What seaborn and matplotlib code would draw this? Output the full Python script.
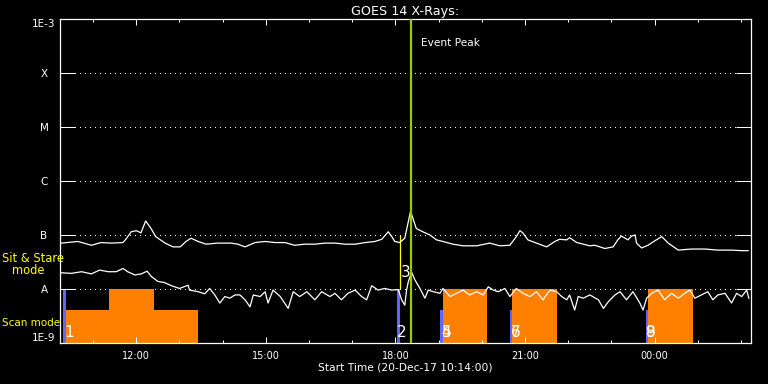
import numpy as np
import pandas as pd
import matplotlib
matplotlib.use("Agg")
import matplotlib.pyplot as plt
import matplotlib.dates as mdates
from matplotlib.ticker import NullLocator
import seaborn as sns

# ---------------- data ----------------
start_time = pd.Timestamp("2017-12-20 10:14:00")

# long channel (1-8 A), minutes after start and log10 flux (W/m^2)
upper_min = [2, 25, 43.5, 57, 71, 87.5, 92, 99, 106, 112.5, 119, 126, 133, 146, 157,
             167, 175, 182, 192, 203, 219, 237.5, 247, 257, 271, 285, 299, 312.5, 326, 340,
             354, 368, 382, 396, 410, 424, 437.5, 447, 456, 461, 465, 472, 479, 483, 487,
             491, 495, 504, 514, 523, 532, 546, 560, 579, 597, 611, 625, 634, 639, 643,
             650, 662, 676, 687.5, 694, 704, 708, 718, 736, 743, 757, 768.5, 775, 780, 789,
             794, 799, 801, 808, 817, 826, 836, 845, 859, 877, 896, 914, 933, 947, 956]
upper_log = [-7.15, -7.12, -7.19, -7.14, -7.15, -7.14, -7.07, -6.94, -6.92, -6.96,
             -6.74, -6.87, -7.03, -7.15, -7.22, -7.22, -7.12, -7.06, -7.12, -7.17,
             -7.15, -7.15, -7.17, -7.22, -7.14, -7.12, -7.14, -7.14, -7.19, -7.17,
             -7.17, -7.15, -7.15, -7.17, -7.17, -7.14, -7.12, -7.08, -6.94, -7.03,
             -7.12, -7.14, -7.06, -6.81, -6.56, -6.72, -6.88, -6.94, -7.00, -7.09,
             -7.12, -7.17, -7.20, -7.20, -7.15, -7.20, -7.19, -7.03, -6.92, -6.96,
             -7.09, -7.15, -7.22, -7.12, -7.08, -7.09, -7.05, -7.14, -7.20, -7.19,
             -7.25, -7.22, -7.09, -7.02, -7.09, -7.02, -7.00, -7.15, -7.24, -7.19,
             -7.11, -7.03, -7.15, -7.28, -7.26, -7.26, -7.28, -7.28, -7.29, -7.29]

# short channel (0.5-4 A)
lower_min = [2, 16, 30, 43.5, 55, 67, 78, 87.5, 94, 104, 113, 121, 127, 136, 145,
             155, 166, 178, 180, 192, 201, 208, 215, 222, 229, 236, 243, 250, 257, 264,
             268.5, 278, 285, 289, 296, 306, 317, 324, 333, 343, 354, 363.5, 375, 382, 391,
             400, 410, 419, 426, 433, 442, 451, 461, 470, 474.6, 479, 481.5, 484, 488.5, 493,
             500, 507, 511.5, 518.5, 528, 532, 542, 551, 560, 569, 579, 588, 595, 602, 609,
             618, 625, 634, 643.5, 653, 662, 671, 680.6, 690, 697, 704, 708, 715, 720, 727,
             736, 748, 755, 761.5, 771, 778, 787, 796, 805.6, 810, 815, 822, 831, 840, 849.6,
             859, 868, 875, 882, 891, 900, 907, 914, 924, 933, 940, 947, 954, 957]
lower_log = [-7.70, -7.71, -7.68, -7.72, -7.65, -7.68, -7.68, -7.62, -7.68, -7.74,
             -7.72, -7.67, -7.77, -7.86, -7.88, -7.94, -7.99, -7.93, -8.02, -8.05,
             -8.09, -7.99, -8.11, -8.26, -8.14, -8.17, -8.11, -8.11, -8.20, -8.33,
             -8.11, -8.14, -8.05, -8.26, -8.02, -8.14, -8.36, -8.05, -8.14, -8.05,
             -8.20, -8.05, -8.14, -8.08, -8.20, -8.08, -8.02, -8.14, -8.20, -7.94,
             -8.02, -7.99, -8.02, -8.01, -8.20, -8.30, -8.02, -7.86, -7.69, -7.83,
             -7.99, -8.17, -8.02, -8.05, -8.08, -7.99, -8.14, -8.08, -8.02, -8.11,
             -8.05, -8.11, -7.96, -8.02, -8.05, -7.99, -8.14, -7.99, -8.08, -8.14,
             -8.05, -8.20, -8.02, -8.05, -8.14, -8.20, -8.11, -8.39, -8.14, -8.17,
             -8.11, -8.20, -8.36, -8.24, -8.11, -8.05, -8.20, -8.05, -8.26, -8.39,
             -8.17, -8.08, -8.02, -8.20, -8.08, -8.17, -8.08, -8.02, -8.17, -8.11,
             -8.05, -8.20, -8.11, -8.08, -8.26, -8.08, -8.14, -8.02, -8.17]

# observation blocks (minutes after start, top flux)
scan_start = [8, 68, 532, 628, 817]
scan_end = [192, 131, 593, 690, 879]
scan_top = [4.1e-9, 1e-8, 1e-8, 1e-8, 1e-8]
sit_start = [3.7, 468, 528, 625, 814]
sit_end = [8, 472, 532, 628, 817]
sit_top = [1e-8, 1e-8, 4.1e-9, 4.1e-9, 4.1e-9]
marker_min = 472.5
marker_lo, marker_hi = 1e-8, 1e-7

obs_labels = ["1", "2", "3", "4", "5", "6", "7", "8", "9"]
obs_label_min = [12, 475, 480, 537, 537, 633, 633, 821, 821]
obs_label_log = [-8.81, -8.81, -7.69, -8.81, -8.81, -8.81, -8.81, -8.81, -8.81]

peak_min = 487.5
total_min = 960

level_values = [1e-9, 1e-8, 1e-7, 1e-6, 1e-5, 1e-4, 1e-3]
level_labels = ["1E-9", "A", "B", "C", "M", "X", "1E-3"]

# ---------------- plotting ----------------
def to_time(mins):
    return start_time + pd.to_timedelta(np.asarray(mins, dtype=float), unit="m")

df_up = pd.DataFrame({"time": to_time(upper_min), "flux": 10.0 ** np.array(upper_log)})
df_lo = pd.DataFrame({"time": to_time(lower_min), "flux": 10.0 ** np.array(lower_log)})

fig = plt.figure(figsize=(7.68, 3.84), dpi=100, facecolor="black")
ax = fig.add_axes([60 / 768, 41 / 384, 691 / 768, 324 / 384])
ax.set_facecolor("black")
ax.set_yscale("log")

ORANGE = "#ff8000"
BLUE = "#6464ff"
GREEN = "#9acd00"
YELLOW = "#ffff00"

def dnum(mins):
    return mdates.date2num(to_time(mins).to_pydatetime())

# orange scan blocks
s0 = dnum(scan_start)
s1 = dnum(scan_end)
ax.bar(s0, np.array(scan_top) - 1e-9, bottom=1e-9, width=s1 - s0, align="edge",
       color=ORANGE, linewidth=0, zorder=1)
b0 = dnum(sit_start)
b1 = dnum(sit_end)
ax.bar(b0, np.array(sit_top) - 1e-9, bottom=1e-9, width=b1 - b0, align="edge",
       color=BLUE, linewidth=0, zorder=1)

# grid lines
for lv in level_values[1:-1]:
    ax.axhline(lv, xmin=15 / 691, xmax=1 - 15 / 691, color="white", lw=0.72,
               ls=(0, (1, 5)), zorder=0.5, antialiased=False)

sns.lineplot(data=df_up, x="time", y="flux", ax=ax, color="white", linewidth=0.9,
             estimator=None, sort=False, zorder=3)
sns.lineplot(data=df_lo, x="time", y="flux", ax=ax, color="white", linewidth=0.9,
             estimator=None, sort=False, zorder=3)

# marker & event peak
mx = dnum([marker_min])[0]
ax.vlines(mx, marker_lo, marker_hi, color=YELLOW, lw=0.9, zorder=2)
px = dnum([peak_min])[0]
ax.axvline(px, color=GREEN, lw=1.6, zorder=4)
ax.annotate("Event Peak", xy=(px, 0.926), xycoords=("data", "axes fraction"),
            xytext=(7.5, 0), textcoords="offset points", color="white",
            fontsize=7.6, va="center", ha="left")

for lab, m, lg in zip(obs_labels, obs_label_min, obs_label_log):
    ax.text(dnum([m])[0], 10.0 ** lg, lab, color="white", fontsize=11,
            ha="center", va="center", zorder=5)

# axes limits
ax.set_xlim(dnum([0])[0], dnum([total_min])[0])
ax.set_ylim(1e-9, 1e-3)

# y axis
ax.yaxis.set_minor_locator(NullLocator())
ax.set_yticks(level_values)
ax.set_yticklabels(level_labels)
ax.tick_params(axis="y", which="major", direction="in", length=10.8, width=0.72,
               left=True, right=True, colors="white", labelsize=7.5, pad=11.5)
ylabs = ax.get_yticklabels()
for t in ylabs:
    t.set_ha("center")
ylabs[0].set_va("bottom")
ylabs[-1].set_va("top")

# x axis
ax.xaxis.set_major_locator(mdates.HourLocator(byhour=range(0, 24, 3)))
ax.xaxis.set_minor_locator(mdates.HourLocator())
ax.xaxis.set_major_formatter(mdates.DateFormatter("%H:%M"))
ax.tick_params(axis="x", which="major", direction="in", length=4.3, width=0.72,
               top=True, bottom=True, colors="white", labelsize=7, pad=6)
ax.tick_params(axis="x", which="minor", direction="in", length=2.2, width=0.72,
               top=True, bottom=True, colors="white")
ax.set_xlabel("Start Time (20-Dec-17 10:14:00)", color="white", fontsize=7.7, labelpad=1)
ax.set_ylabel("")
ax.set_title("GOES 14 X-Rays:", color="white", fontsize=9.2, pad=3)

for sp in ax.spines.values():
    sp.set_color("white")
    sp.set_linewidth(0.9)

# mode labels
fig.text(2 / 768, 1 - 258 / 384, "Sit & Stare", color=YELLOW, fontsize=8.3, va="center", ha="left")
fig.text(12 / 768, 1 - 271 / 384, "mode", color=YELLOW, fontsize=8.3, va="center", ha="left")
fig.text(2 / 768, 1 - 323.5 / 384, "Scan mode", color=YELLOW, fontsize=7.5, va="center", ha="left")

fig.savefig("out.png", dpi=100, facecolor="black")
